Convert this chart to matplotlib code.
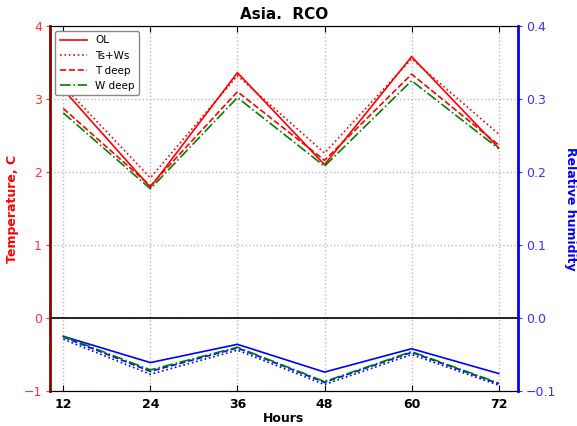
import matplotlib
matplotlib.use("Agg")
import matplotlib.pyplot as plt

hours = [12, 24, 36, 48, 60, 72]
# Temperature (left axis)
t_ol = [3.13, 1.79, 3.36, 2.10, 3.58, 2.33]
t_tsws = [3.18, 1.92, 3.32, 2.26, 3.55, 2.52]
t_tdeep = [2.87, 1.81, 3.10, 2.16, 3.34, 2.37]
t_wdeep = [2.81, 1.77, 3.02, 2.08, 3.25, 2.32]
# Relative humidity (right axis)
rh_ol = [-0.025, -0.061, -0.036, -0.074, -0.042, -0.076]
rh_tsws = [-0.029, -0.077, -0.044, -0.091, -0.050, -0.092]
rh_tdeep = [-0.026, -0.073, -0.041, -0.088, -0.047, -0.090]
rh_wdeep = [-0.025, -0.071, -0.040, -0.087, -0.046, -0.089]

fig = plt.figure(figsize=(5.77, 4.26), dpi=100)
ax = fig.add_axes([0.087, 0.082, 0.81, 0.857])
ax2 = ax.twinx()

lw = 1.2
ax.plot(hours, t_ol, color='red', ls='-', lw=lw, label='OL')
ax.plot(hours, t_tsws, color='red', ls=':', lw=lw, label='Ts+Ws')
ax.plot(hours, t_tdeep, color='red', ls='--', lw=lw, label='T deep')
ax.plot(hours, t_wdeep, color='green', ls='-.', lw=lw, label='W deep')
ax.axhline(0, color='black', lw=1.2)

ax2.plot(hours, rh_ol, color='blue', ls='-', lw=lw)
ax2.plot(hours, rh_tsws, color='blue', ls=':', lw=lw)
ax2.plot(hours, rh_tdeep, color='blue', ls='--', lw=lw)
ax2.plot(hours, rh_wdeep, color='green', ls='-.', lw=lw)

ax.set_xlim(10.2, 74.6)
ax.set_ylim(-1, 4)
ax2.set_ylim(-0.1, 0.4)
ax.set_xticks(hours)
ax.set_xticklabels([str(h) for h in hours], fontweight='bold', fontsize=9)
ax.set_yticks([-1, 0, 1, 2, 3, 4])
ax2.set_yticks([-0.1, 0.0, 0.1, 0.2, 0.3, 0.4])
ax.tick_params(axis='y', colors='#ff3333', direction='out', labelsize=9, length=3, pad=3)
ax.tick_params(axis='x', direction='in', length=4, top=True, pad=5)
ax2.tick_params(axis='y', colors='#3333ff', direction='out', labelsize=9, length=3, pad=3)
ax.grid(True, color='#bbbbbb', ls=':', lw=1)

ax.set_xlabel('Hours', fontweight='bold', fontsize=9, labelpad=1)
ax.set_ylabel('Temperature, C', color='red', fontweight='bold', fontsize=9, labelpad=3)
ax2.set_ylabel('Relative humidity', color='blue', fontweight='bold', fontsize=9, rotation=270, labelpad=15)
ax.set_title('Asia.  RCO', fontweight='bold', fontsize=11, pad=5)

ax2.spines['left'].set_color('darkred')
ax2.spines['left'].set_linewidth(2)
ax2.spines['right'].set_color('blue')
ax2.spines['right'].set_linewidth(2)
ax.spines['left'].set_visible(False)
ax.spines['right'].set_visible(False)

ax.legend(loc='upper left', fontsize=7.5, framealpha=1, edgecolor='#888888', handlelength=2.6)

fig.savefig('out.png', dpi=100)
